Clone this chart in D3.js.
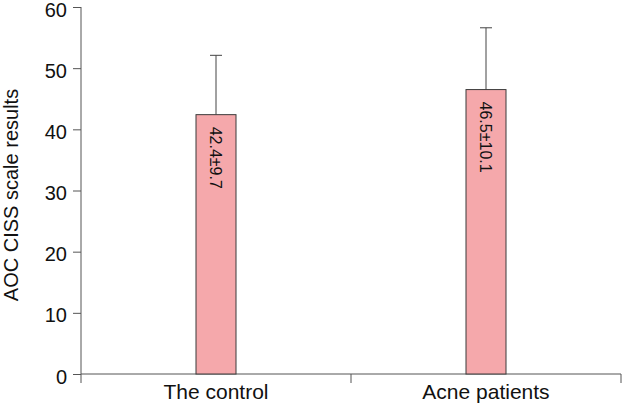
<!DOCTYPE html>
<html>
<head>
<meta charset="utf-8">
<script src="https://cdn.jsdelivr.net/npm/d3@7"></script>
<style>
  body { margin: 0; background: #fff; }
  text { font-family: "Liberation Sans", Arial, sans-serif; fill: #111; }
</style>
</head>
<body>
<script>
var groups = ["The control", "Acne patients"]
var means = [42.4, 46.5]
var sds = [9.7, 10.1]
var yTicks = [0, 10, 20, 30, 40, 50, 60]

var margin = {top: 7, right: 1, bottom: 34, left: 81}
var width = 622 - margin.left - margin.right
var height = 408 - margin.top - margin.bottom

var svg = d3.select("body").append("svg")
    .attr("width", 622)
    .attr("height", 408)
  .append("g")
    .attr("transform", "translate(" + margin.left + "," + margin.top + ")");

var x = d3.scaleBand()
    .domain(groups)
    .range([0, width]);

var y = d3.scaleLinear()
    .domain([0, 60])
    .range([height, 0]);

var barW = 40;

// y axis
var yAxis = svg.append("g")
    .call(d3.axisLeft(y).tickValues(yTicks).tickSize(8).tickPadding(6));
yAxis.selectAll("text")
    .attr("dy", "0.45em")
    .style("font-size", "20px");

// x axis with ticks at band edges
var xAxis = svg.append("g")
    .attr("transform", "translate(0," + height + ")");
xAxis.append("line")
    .attr("x1", 0).attr("x2", width)
    .attr("stroke", "#555");
xAxis.selectAll(".tk")
    .data([0].concat(groups.map(function(g) { return x(g) + x.bandwidth(); })))
  .enter().append("line")
    .attr("x1", function(d) { return d; })
    .attr("x2", function(d) { return d; })
    .attr("y1", 0).attr("y2", 9)
    .attr("stroke", "#555");
xAxis.selectAll(".lbl")
    .data(groups)
  .enter().append("text")
    .attr("x", function(d) { return x(d) + x.bandwidth() / 2; })
    .attr("y", 25)
    .attr("text-anchor", "middle")
    .style("font-size", "21px")
    .text(function(d) { return d; });

yAxis.selectAll("path, line").attr("stroke", "#555");
yAxis.select(".domain").attr("d", "M0," + y(60) + "V" + height);

var bar = svg.selectAll(".bar")
    .data(groups)
  .enter().append("g")
    .attr("class", "bar")
    .attr("transform", function(d) { return "translate(" + (x(d) + x.bandwidth() / 2) + ",0)"; });

// error bars (upper only)
bar.append("line")
    .attr("x1", 0).attr("x2", 0)
    .attr("y1", function(d, i) { return y(means[i]); })
    .attr("y2", function(d, i) { return y(means[i] + sds[i]); })
    .attr("stroke", "#444");
bar.append("line")
    .attr("x1", -6).attr("x2", 6)
    .attr("y1", function(d, i) { return y(means[i] + sds[i]); })
    .attr("y2", function(d, i) { return y(means[i] + sds[i]); })
    .attr("stroke", "#444");

bar.append("rect")
    .attr("x", -barW / 2)
    .attr("width", barW)
    .attr("y", function(d, i) { return y(means[i]); })
    .attr("height", function(d, i) { return height - y(means[i]); })
    .attr("fill", "#f5a8ab")
    .attr("stroke", "#3a3a3a");

bar.append("text")
    .attr("transform", function(d, i) { return "translate(0," + (y(means[i]) + 12) + ") rotate(90)"; })
    .attr("dy", "0.35em")
    .style("font-size", "16px")
    .text(function(d, i) { return means[i].toFixed(1) + "±" + sds[i].toFixed(1); });

svg.append("text")
    .attr("transform", "translate(" + (-63) + "," + (195 - margin.top) + ") rotate(-90)")
    .attr("text-anchor", "middle")
    .style("font-size", "20px")
    .text("AOC CISS scale results");
</script>
</body>
</html>
